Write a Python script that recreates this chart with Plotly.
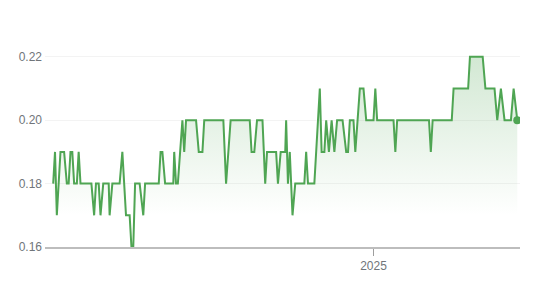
import plotly.graph_objects as go

dates = [
    "2024-01-15", "2024-01-17", "2024-01-19", "2024-01-23", "2024-01-27", "2024-01-30",
    "2024-02-01", "2024-02-03", "2024-02-05", "2024-02-07", "2024-02-10", "2024-02-12",
    "2024-02-14", "2024-02-26", "2024-02-29", "2024-03-02", "2024-03-05", "2024-03-07",
    "2024-03-10", "2024-03-16", "2024-03-17", "2024-03-20", "2024-03-28", "2024-03-31",
    "2024-04-04", "2024-04-08", "2024-04-10", "2024-04-12", "2024-04-14", "2024-04-19",
    "2024-04-23", "2024-04-25", "2024-05-10", "2024-05-12", "2024-05-14", "2024-05-17",
    "2024-05-26", "2024-05-27", "2024-05-29", "2024-05-31", "2024-06-05", "2024-06-07",
    "2024-06-09", "2024-06-20", "2024-06-23", "2024-06-27", "2024-06-29", "2024-07-20",
    "2024-07-23", "2024-07-28", "2024-08-18", "2024-08-20", "2024-08-23", "2024-08-26",
    "2024-09-01", "2024-09-04", "2024-09-06", "2024-09-16", "2024-09-18", "2024-09-21",
    "2024-09-26", "2024-09-27", "2024-09-29", "2024-10-01", "2024-10-04", "2024-10-07",
    "2024-10-17", "2024-10-19", "2024-10-21", "2024-10-28", "2024-11-03", "2024-11-05",
    "2024-11-08", "2024-11-10", "2024-11-13", "2024-11-16", "2024-11-19", "2024-11-22",
    "2024-11-28", "2024-12-02", "2024-12-04", "2024-12-06", "2024-12-10", "2024-12-12",
    "2024-12-17", "2024-12-21", "2024-12-24", "2025-01-01", "2025-01-03", "2025-01-05",
    "2025-01-23", "2025-01-25", "2025-01-27", "2025-03-03", "2025-03-05", "2025-03-07",
    "2025-03-28", "2025-03-30", "2025-04-15", "2025-04-17", "2025-05-01", "2025-05-04",
    "2025-05-14", "2025-05-17", "2025-05-21", "2025-05-25", "2025-06-01", "2025-06-04",
    "2025-06-08",
]

prices = [
    0.18, 0.19, 0.17, 0.19, 0.19, 0.18,
    0.18, 0.19, 0.19, 0.18, 0.18, 0.19,
    0.18, 0.18, 0.17, 0.18, 0.18, 0.17,
    0.18, 0.18, 0.17, 0.18, 0.18, 0.19,
    0.17, 0.17, 0.16, 0.16, 0.18, 0.18,
    0.17, 0.18, 0.18, 0.19, 0.19, 0.18,
    0.18, 0.19, 0.18, 0.18, 0.20, 0.19,
    0.20, 0.20, 0.19, 0.19, 0.20, 0.20,
    0.18, 0.20, 0.20, 0.19, 0.19, 0.20,
    0.20, 0.18, 0.19, 0.19, 0.18, 0.19,
    0.19, 0.20, 0.18, 0.19, 0.17, 0.18,
    0.18, 0.19, 0.18, 0.18, 0.21, 0.19,
    0.19, 0.20, 0.19, 0.20, 0.19, 0.20,
    0.20, 0.19, 0.19, 0.20, 0.20, 0.19,
    0.21, 0.21, 0.20, 0.20, 0.21, 0.20,
    0.20, 0.19, 0.20, 0.20, 0.19, 0.20,
    0.20, 0.21, 0.21, 0.22, 0.22, 0.21,
    0.21, 0.20, 0.21, 0.20, 0.20, 0.21,
    0.20,
]

y_ticks = [0.16, 0.18, 0.20, 0.22]
x_tick_vals = ["2025-01-01"]
x_tick_text = ["2025"]

GREEN = "#4fa553"
GREY_TEXT = "#70757a"

fig = go.Figure()
fig.add_trace(go.Scatter(
    x=dates, y=prices, mode="lines",
    line=dict(color=GREEN, width=2),
    fill="tozeroy",
    fillgradient=dict(
        type="vertical", start=0.17, stop=0.225,
        colorscale=[[0, "rgba(79,165,83,0)"], [1, "rgba(79,165,83,0.28)"]],
    ),
    hoverinfo="skip", showlegend=False,
))
fig.add_trace(go.Scatter(
    x=[dates[-1]], y=[prices[-1]], mode="markers",
    marker=dict(color=GREEN, size=8),
    hoverinfo="skip", showlegend=False,
))

fig.update_layout(
    width=546, height=302,
    margin=dict(l=45, r=26, t=41, b=55),
    paper_bgcolor="white", plot_bgcolor="white",
    font=dict(family="Liberation Sans, Arial, sans-serif", size=12, color=GREY_TEXT),
    xaxis=dict(
        range=["2024-01-06", "2025-06-11"],
        tickvals=x_tick_vals, ticktext=x_tick_text,
        showgrid=False, zeroline=False,
        showline=True, linecolor="#bdbdbd", linewidth=2,
        ticks="outside", ticklen=7, tickcolor="#9e9e9e", tickwidth=1,
    ),
    yaxis=dict(
        range=[0.16, 0.225],
        tickvals=y_ticks, tickformat=".2f",
        showgrid=True, gridcolor="#f3f3f3", gridwidth=1,
        zeroline=False, showline=False,
        ticks="", ticklabelstandoff=2,
    ),
)

fig.write_html("out.html")
